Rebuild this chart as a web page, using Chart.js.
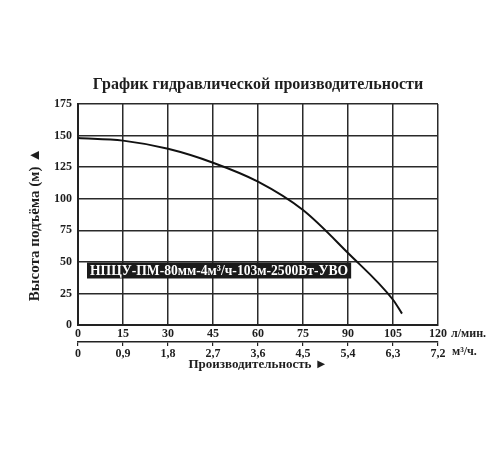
<!DOCTYPE html>
<html><head><meta charset="utf-8">
<script src="https://cdn.jsdelivr.net/npm/chart.js@4"></script>
<style>html,body{margin:0;padding:0;background:#fff}</style>
</head><body>
<canvas id="c" width="500" height="450"></canvas>
<script>
const flowLmin = [0, 15, 30, 45, 60, 75, 90, 105, 108];
const headM = [148, 146, 139.5, 128.5, 113.5, 91, 57, 20, 9];
const xTicksLmin = [0, 15, 30, 45, 60, 75, 90, 105, 120];
const xTicksM3 = ['0', '0,9', '1,8', '2,7', '3,6', '4,5', '5,4', '6,3', '7,2'];
const yTicks = [0, 25, 50, 75, 100, 125, 150, 175];
const titleText = 'График гидравлической производительности';
const yTitle = 'Высота подъёма (м) ▲';
const xTitle = 'Производительность ►';
const unitLmin = 'л/мин.';
const unitM3 = 'м³/ч.';
const modelLabel = 'НПЦУ-ПМ-80мм-4м³/ч-103м-2500Вт-УВО';

const FONT = "'Liberation Serif', 'Times New Roman', serif";
const INK = '#1e1e1e';
const tickFont = { family: FONT, weight: 'bold', size: 12 };

const extras = {
  id: 'extras',
  afterDatasetsDraw(chart) {
    const ctx = chart.ctx;
    const xs = chart.scales.x, ys = chart.scales.y;
    ctx.save();
    ctx.font = 'bold 13.6px ' + FONT;
    const tw = ctx.measureText(modelLabel).width;
    const bx = xs.getPixelForValue(3), by = ys.getPixelForValue(49.5);
    ctx.fillStyle = '#1a1a1a';
    ctx.fillRect(bx, by, tw + 6, 16);
    ctx.fillStyle = '#fff';
    ctx.textBaseline = 'middle';
    ctx.textAlign = 'left';
    ctx.fillText(modelLabel, bx + 3, by + 8.5);
    ctx.restore();
  },
  afterDraw(chart) {
    const ctx = chart.ctx;
    const xs = chart.scales.x;
    const area = chart.chartArea;
    ctx.save();
    ctx.fillStyle = INK;
    ctx.font = 'bold 16px ' + FONT;
    ctx.textAlign = 'center';
    ctx.textBaseline = 'middle';
    ctx.fillText(titleText, (area.left + area.right) / 2, area.top - 19);
    ctx.restore();
    ctx.save();
    ctx.fillStyle = INK;
    ctx.font = 'bold 15px ' + FONT;
    ctx.translate(35, (area.top + area.bottom) / 2 + 10);
    ctx.rotate(-Math.PI / 2);
    ctx.textAlign = 'center';
    ctx.textBaseline = 'middle';
    ctx.fillText(yTitle, 0, 0);
    ctx.restore();
    ctx.save();
    ctx.fillStyle = INK;
    ctx.font = 'bold 12px ' + FONT;
    ctx.textAlign = 'left';
    ctx.textBaseline = 'middle';
    ctx.fillText(unitLmin, xs.right + 13, area.bottom + 9);
    ctx.fillText(unitM3, xs.right + 14, area.bottom + 27);
    ctx.restore();
  }
};

new Chart(document.getElementById('c'), {
  type: 'line',
  data: {
    datasets: [{
      data: flowLmin.map((x, i) => ({ x, y: headM[i] })),
      borderColor: '#111',
      borderWidth: 2,
      pointRadius: 0,
      fill: false,
      cubicInterpolationMode: 'monotone'
    }]
  },
  options: {
    responsive: false,
    animation: false,
    layout: { padding: { left: 0, right: 62, top: 104, bottom: 78 } },
    plugins: {
      legend: { display: false },
      tooltip: { enabled: false },
      title: { display: false }
    },
    scales: {
      x: {
        type: 'linear', position: 'bottom', min: 0, max: 120,
        afterBuildTicks: s => { s.ticks = xTicksLmin.map(v => ({ value: v })); },
        ticks: { font: tickFont, color: INK, padding: 2, maxRotation: 0, autoSkip: false },
        grid: { color: '#2a2a2a', lineWidth: 1.5, drawTicks: false },
        border: { display: true, color: '#222', width: 2 },
        afterFit: s => { s.height = 17; }
      },
      x2: {
        type: 'linear', position: 'bottom', min: 0, max: 120,
        afterBuildTicks: s => { s.ticks = xTicksLmin.map(v => ({ value: v })); },
        ticks: { font: tickFont, color: INK, padding: 1, maxRotation: 0, autoSkip: false,
          callback: (v, i) => xTicksM3[i] },
        grid: { drawOnChartArea: false, drawTicks: true, tickLength: 4, color: '#222', lineWidth: 1.2 },
        border: { display: true, color: '#222', width: 1.5 },
        title: { display: true, text: xTitle, color: INK, font: { family: FONT, weight: 'bold', size: 13 }, padding: 0 },
        afterFit: s => { s.height = 30; }
      },
      y: {
        type: 'linear', min: 0, max: 175,
        afterBuildTicks: s => { s.ticks = yTicks.map(v => ({ value: v })); },
        ticks: { font: tickFont, color: INK, padding: 6 },
        grid: { color: '#2a2a2a', lineWidth: 1.5, drawTicks: false },
        border: { display: true, color: '#222', width: 2 },
        afterFit: s => { s.width = 78; }
      }
    }
  },
  plugins: [extras]
});
</script>
</body></html>
